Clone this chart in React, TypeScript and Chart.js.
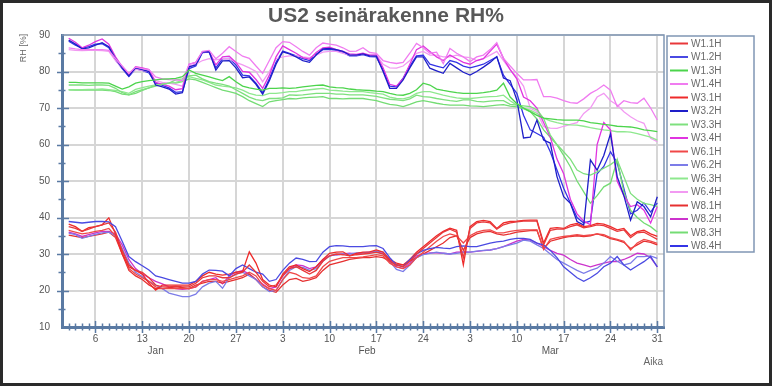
import React, { useEffect, useRef } from 'react';
import { Chart, registerables } from 'chart.js';

Chart.register(...registerables);

// Day index: 0 = 1 Jan, 89 = 31 Mar. Data runs from 2 Jan (1) to 31 Mar (89).
const days: number[] = Array.from({ length: 89 }, (_, i) => i + 1);

const xTickDays = [5, 12, 19, 26, 33, 40, 47, 54, 61, 68, 75, 82, 89];
const xTickLabels = ['6', '13', '20', '27', '3', '10', '17', '24', '3', '10', '17', '24', '31'];
const monthTickDays = [14, 45.6, 73];
const monthLabels = ['Jan', 'Feb', 'Mar'];
const yTicks = [10, 20, 30, 40, 50, 60, 70, 80, 90];

const W1_1H = [37.5,37.0,36.2,36.8,37.5,38.0,38.5,36.0,31.0,27.0,
 25.5,25.0,23.5,21.5,21.0,21.0,21.2,21.0,21.0,22.0,
 23.5,24.0,24.0,23.5,23.5,24.5,25.0,27.0,25.0,22.5,
 21.0,21.5,24.0,26.0,26.5,25.5,24.5,25.5,28.0,29.5,
 30.0,29.8,29.5,29.8,30.0,30.2,30.5,30.0,28.0,27.0,
 26.5,28.0,30.0,31.5,33.0,34.5,36.0,36.8,36.0,29.0,
 37.0,38.5,38.8,38.5,36.8,38.0,38.5,38.8,39.0,39.0,
 39.0,32.5,36.5,36.8,36.8,37.5,38.0,37.2,37.5,38.0,
 37.8,37.0,36.2,36.6,34.5,35.8,36.0,35.0,34.0];
const W1_2H = [38.9,38.7,38.5,38.7,38.9,38.9,38.8,37.5,33.5,29.3,
 27.9,26.8,25.6,24.0,23.5,23.0,22.5,22.0,22.0,22.5,
 24.5,25.6,25.5,25.3,24.0,26.0,27.0,26.0,25.0,24.5,
 22.5,23.0,25.5,27.5,28.9,28.5,27.9,28.0,30.5,32.0,
 32.3,32.2,32.0,32.0,32.0,32.2,32.3,31.5,29.0,27.0,
 26.5,28.5,30.0,31.0,31.5,31.8,31.6,31.5,32.0,32.2,
 32.0,32.0,32.5,33.0,33.3,33.5,34.0,34.3,34.3,34.0,
 33.0,32.5,31.0,29.0,26.5,25.0,23.5,22.5,23.5,24.7,
 26.5,27.5,29.3,27.0,25.6,26.8,27.9,29.3,26.5];
const W1_3H = [77.0,77.0,76.9,76.9,76.9,76.9,76.8,76.0,75.2,75.8,
 76.8,77.2,77.5,77.7,77.9,78.0,78.1,78.6,80.4,79.5,
 79.0,78.5,78.0,77.5,78.6,77.2,76.0,75.5,75.2,74.9,
 75.4,75.4,75.5,75.4,75.5,75.8,76.0,76.2,76.3,75.8,
 75.6,75.5,75.2,75.0,74.9,74.8,74.6,74.5,74.0,73.6,
 73.5,74.0,75.0,76.8,76.3,75.2,74.8,74.5,74.2,74.0,
 74.0,74.0,74.2,74.5,74.9,76.8,73.0,71.2,70.0,69.0,
 68.0,67.2,67.0,66.8,66.7,66.7,66.7,66.5,66.0,65.8,
 65.5,65.3,65.0,64.9,64.8,64.5,64.0,63.8,63.5];
const W1_4H = [86.5,86.2,86.0,86.0,86.0,86.0,85.8,83.5,81.5,79.5,
 81.2,80.8,80.5,78.5,78.0,77.8,77.7,77.5,82.0,82.5,
 85.5,85.8,83.5,85.0,86.8,85.5,84.2,83.6,81.5,79.5,
 83.0,86.5,88.2,88.0,86.8,85.5,84.5,86.5,87.8,87.5,
 87.2,86.5,85.5,85.6,86.5,85.2,85.0,83.0,82.5,82.2,
 82.5,85.0,87.7,86.5,85.0,85.3,82.2,86.3,85.0,84.0,
 82.7,84.0,84.5,86.0,87.9,83.6,81.5,79.5,77.7,77.7,
 77.8,73.1,73.1,72.7,72.0,71.5,71.3,72.5,74.0,75.0,
 76.3,74.9,70.4,72.0,71.5,71.3,72.7,70.0,66.7];
const W3_1H = [38.2,37.5,36.2,37.2,37.5,38.0,39.9,35.5,30.0,26.5,
 25.5,24.5,22.0,20.1,21.5,21.5,21.5,21.5,21.5,22.5,
 24.0,25.0,24.5,24.2,24.5,25.0,25.2,30.6,27.5,23.0,
 21.5,21.0,24.5,26.5,27.0,26.0,25.2,26.5,28.5,30.2,
 30.5,30.6,29.5,30.2,30.5,30.6,31.1,30.5,28.5,27.5,
 27.0,28.5,30.5,32.0,33.5,35.0,36.2,37.1,36.5,27.0,
 37.5,38.9,39.2,38.9,37.0,38.5,38.9,39.0,39.2,39.3,
 39.3,33.0,37.0,37.2,37.0,38.0,38.4,37.5,37.8,38.4,
 38.2,37.5,36.6,37.0,35.0,36.1,36.5,35.5,34.8];
const W3_2H = [88.6,87.5,86.2,86.5,87.2,87.9,86.8,83.5,81.0,78.8,
 81.0,80.5,80.0,76.3,75.8,75.2,73.8,74.2,81.3,81.8,
 85.4,85.5,80.4,82.9,83.0,81.0,78.3,78.5,76.5,73.8,
 77.5,82.0,85.4,84.8,84.0,83.0,82.5,84.5,86.2,86.3,
 86.0,85.5,84.5,84.5,84.8,84.3,84.2,80.0,75.4,75.4,
 77.7,81.0,84.0,84.0,80.9,80.2,79.5,82.2,81.0,79.8,
 79.0,80.0,81.2,82.5,84.1,78.2,77.5,72.2,61.8,62.0,
 66.7,61.2,60.4,51.2,45.7,43.9,38.9,37.9,55.8,53.0,
 57.0,62.9,51.2,46.0,39.3,44.3,43.0,40.2,45.7];
const W3_3H = [76.3,76.3,76.3,76.2,76.3,76.3,76.2,75.4,74.2,73.6,
 74.5,75.0,75.5,76.0,76.5,76.8,77.7,78.0,78.8,79.0,
 78.0,77.2,76.8,76.5,76.0,75.0,74.0,73.0,72.3,72.0,
 72.6,72.6,72.8,73.6,73.5,73.6,73.8,74.0,74.0,74.0,
 73.8,73.8,73.6,73.6,73.6,73.4,73.2,72.8,72.4,72.2,
 72.0,72.5,73.5,73.1,73.0,72.6,72.3,72.0,71.8,72.2,
 72.2,71.8,71.7,71.9,72.0,72.0,71.0,70.8,70.6,70.4,
 69.5,67.2,62.6,60.0,58.0,56.0,53.0,52.0,51.6,52.5,
 53.5,54.5,55.8,51.2,46.6,45.0,43.9,43.5,43.0];
const W3_4H = [89.1,88.0,86.5,87.2,88.2,88.9,87.5,84.0,81.3,79.0,
 81.3,81.0,80.5,77.0,76.5,76.0,75.0,75.3,82.0,82.5,
 85.4,85.5,81.8,84.0,84.2,82.5,80.0,79.8,77.8,75.4,
 79.0,84.0,87.0,86.0,85.0,83.8,83.4,85.2,86.5,86.7,
 86.0,85.5,84.8,84.7,85.0,84.5,84.5,81.0,76.5,76.0,
 78.0,82.0,86.0,87.0,85.5,84.0,83.0,84.5,83.5,82.5,
 82.0,83.0,83.5,85.5,87.5,83.6,80.5,78.0,73.0,72.0,
 70.0,66.0,62.0,56.0,52.0,45.0,41.0,39.0,38.0,60.0,
 66.0,64.0,50.0,46.0,43.0,43.5,42.0,38.5,43.0];
const W6_1H = [36.5,36.0,35.5,35.8,36.2,36.5,37.0,35.0,30.5,26.0,
 24.5,23.5,22.5,21.0,20.5,20.5,20.5,20.5,20.5,21.0,
 22.5,23.0,23.0,22.5,23.0,23.5,24.0,25.0,24.0,21.5,
 20.5,20.0,23.0,25.0,24.5,23.5,23.3,24.0,26.5,28.0,
 28.5,29.0,29.0,29.0,29.2,29.5,29.8,29.5,27.5,26.5,
 26.0,27.0,29.0,30.5,32.0,33.5,34.8,35.5,35.0,33.0,
 35.0,36.0,36.5,36.6,35.8,35.8,36.2,36.5,36.6,36.6,
 36.6,31.2,34.0,34.5,34.8,35.0,35.3,35.0,35.2,35.5,
 35.3,34.5,34.0,33.5,31.1,33.0,34.0,33.5,32.9];
const W6_2H = [35.7,35.3,34.3,34.8,35.4,35.8,36.0,35.0,31.5,27.5,
 25.0,23.8,22.5,21.5,20.5,19.3,18.8,18.3,18.3,19.0,
 21.0,22.0,22.5,20.6,23.5,24.5,25.0,24.0,23.0,21.0,
 19.7,20.0,23.0,25.5,26.5,26.3,25.5,26.0,28.0,29.5,
 29.8,30.0,30.0,30.3,30.4,30.5,30.8,30.5,28.0,25.8,
 25.2,27.0,29.0,29.8,30.2,30.5,30.2,30.0,30.2,30.5,
 30.5,30.8,31.0,31.1,31.5,32.0,32.5,33.0,33.8,33.5,
 32.5,31.5,30.0,28.5,27.5,26.5,25.5,24.7,25.5,26.1,
 27.5,29.3,28.0,27.0,27.5,29.3,29.3,29.5,28.8];
const W6_3H = [75.0,75.0,75.0,75.1,75.1,75.2,75.0,74.8,74.5,74.0,
 75.1,75.6,76.0,76.3,76.5,76.8,77.0,77.5,78.6,78.1,
 77.7,77.0,76.3,76.0,75.8,75.5,74.9,74.0,73.5,73.4,
 74.0,74.0,74.2,74.5,74.5,74.8,75.0,75.2,75.4,74.9,
 74.8,74.6,74.5,74.5,74.5,74.2,74.0,73.8,73.0,72.6,
 72.5,73.0,74.0,74.5,74.5,74.0,73.5,73.1,72.8,72.6,
 72.6,72.8,73.0,73.1,73.2,73.5,72.0,70.8,70.0,69.4,
 68.5,67.2,66.5,66.0,65.6,65.4,65.3,65.0,64.6,64.3,
 64.0,63.8,63.5,63.5,63.4,63.0,62.5,62.0,61.2];
const W6_4H = [86.0,85.8,85.7,85.8,85.8,85.7,85.5,83.0,81.0,79.0,
 80.6,80.3,80.0,77.5,77.0,76.8,76.5,76.0,81.5,82.0,
 83.0,83.5,83.2,83.5,83.5,82.5,81.8,81.0,80.0,77.2,
 80.0,83.5,84.0,84.3,84.3,84.0,83.8,84.5,85.3,85.5,
 85.5,85.0,84.5,84.5,84.8,84.5,84.5,82.0,81.0,80.9,
 81.5,83.0,85.0,85.5,84.5,84.5,84.0,84.0,84.5,84.0,
 83.8,83.0,83.5,84.5,85.5,83.0,80.5,78.5,76.0,70.0,
 69.0,64.9,64.5,64.4,65.0,65.5,66.0,68.5,70.0,73.0,
 74.0,72.0,70.8,69.0,67.6,66.5,65.8,61.7,60.8];
const W8_1H = [35.2,34.8,34.5,34.8,35.2,35.5,36.0,34.5,30.0,25.5,
 24.0,23.0,21.5,20.5,20.5,20.8,21.0,20.8,20.5,21.5,
 22.0,22.5,22.5,22.0,22.5,23.0,23.5,24.5,23.0,21.0,
 20.0,19.5,21.5,23.0,23.3,22.5,22.9,23.5,25.5,27.0,
 27.5,28.0,28.5,28.8,29.0,29.0,29.3,29.0,28.0,27.0,
 27.0,28.0,29.0,30.0,31.0,32.0,33.0,34.5,35.0,31.0,
 34.5,35.5,36.0,36.2,35.5,35.2,35.5,36.0,36.2,36.4,
 36.5,31.5,33.5,34.0,34.5,34.8,35.0,34.8,35.0,35.5,
 35.0,34.2,33.8,33.2,31.5,32.5,33.5,33.2,32.5];
const W8_2H = [36.0,35.5,34.8,35.3,35.8,36.2,36.2,35.5,32.5,28.5,
 26.0,24.5,23.5,22.5,21.8,21.0,20.5,20.3,20.5,21.0,
 22.5,23.0,23.5,21.8,24.0,25.0,25.5,24.5,23.0,21.8,
 20.5,21.0,24.0,26.0,27.0,26.8,26.0,26.5,28.5,29.5,
 29.8,30.0,30.2,30.0,30.3,30.5,30.6,30.2,28.5,26.5,
 26.0,27.5,29.5,30.0,30.3,30.3,30.2,30.0,30.5,30.6,
 30.5,30.7,30.9,31.1,31.5,32.0,32.8,33.5,34.0,33.8,
 33.0,32.0,31.0,30.2,29.7,28.5,27.5,27.0,26.5,27.0,
 27.5,27.9,27.9,28.5,29.3,30.2,30.0,29.0,26.5];
const W8_3H = [75.0,74.9,74.9,74.9,74.9,74.9,74.8,74.5,73.8,73.6,
 74.0,74.8,75.5,76.3,76.6,76.8,76.8,77.2,78.0,77.7,
 77.0,76.3,75.6,74.9,74.5,74.0,73.1,72.0,71.2,70.4,
 71.7,72.0,72.3,72.6,72.5,72.8,72.9,73.0,73.1,72.6,
 72.6,72.5,72.6,72.6,72.6,72.3,72.0,71.5,71.0,70.8,
 70.4,71.0,71.7,72.0,71.7,71.3,71.0,70.8,70.8,70.8,
 70.6,70.5,70.4,70.6,70.8,70.9,70.5,70.3,69.8,69.0,
 67.0,64.0,62.0,59.9,57.0,53.9,50.0,47.0,43.9,46.0,
 48.4,49.4,55.8,47.0,42.0,40.0,38.5,37.5,36.0];
const W8_4H = [88.3,87.2,86.4,86.8,87.5,87.6,86.5,83.2,80.8,78.6,
 80.7,80.3,79.6,76.8,76.2,75.5,74.3,74.5,80.8,81.5,
 85.2,85.3,81.0,83.5,83.6,81.8,79.0,78.8,76.8,74.2,
 78.0,82.5,85.6,85.0,84.3,83.5,83.0,84.7,86.0,86.1,
 85.8,85.2,84.3,84.3,84.6,84.1,84.0,80.5,76.0,75.8,
 78.2,81.5,84.3,84.5,82.0,81.5,81.0,83.0,82.5,81.5,
 81.0,81.5,82.0,83.0,84.0,79.0,76.5,74.0,68.0,64.0,
 63.0,62.0,58.0,53.0,48.0,44.0,40.0,38.5,39.0,52.0,
 54.0,58.0,55.0,48.0,41.0,42.0,44.0,41.5,44.0];

const seriesNames = ['W1.1H','W1.2H','W1.3H','W1.4H','W3.1H','W3.2H','W3.3H','W3.4H',
  'W6.1H','W6.2H','W6.3H','W6.4H','W8.1H','W8.2H','W8.3H','W8.4H'];
const seriesValues = [W1_1H, W1_2H, W1_3H, W1_4H, W3_1H, W3_2H, W3_3H, W3_4H,
  W6_1H, W6_2H, W6_3H, W6_4H, W8_1H, W8_2H, W8_3H, W8_4H];
const seriesColors = ['#e8383a','#4a4ae2','#4cd44c','#f07cf0','#ee2a2a','#1e1ec8','#7ee07e','#e034e0',
  '#f04848','#7c7ce8','#8ee88e','#f29af2','#e63030','#cc33cc','#74dc74','#3434e6'];

const FONT = '"Liberation Sans", Arial, sans-serif';

const decorPlugin = {
  id: 'decor',
  afterDraw(chart: any) {
    const { ctx, chartArea: ca } = chart;
    const xs = chart.scales.x;
    const ys = chart.scales.y;
    ctx.save();
    // top & right frame of plot
    ctx.strokeStyle = '#8096b4';
    ctx.lineWidth = 1.5;
    ctx.beginPath();
    ctx.moveTo(ca.left, ca.top);
    ctx.lineTo(ca.right, ca.top);
    ctx.lineTo(ca.right, ca.bottom);
    ctx.stroke();
    // axis ticks
    ctx.strokeStyle = '#5a7aa3';
    ctx.lineWidth = 1.5;
    ctx.beginPath();
    for (let d = 1; d <= 89; d++) {
      const x = Math.round(xs.getPixelForValue(d)) + 0.5;
      const major = xTickDays.includes(d);
      const len = major ? 6 : 3.5;
      ctx.moveTo(x, ca.bottom - len);
      ctx.lineTo(x, ca.bottom + len);
    }
    for (let v = 15; v <= 85; v += 5) {
      const y = Math.round(ys.getPixelForValue(v)) + 0.5;
      const major = v % 10 === 0;
      ctx.moveTo(ca.left - (major ? 5 : 3.5), y);
      ctx.lineTo(ca.left + (major ? 7 : 3.5), y);
    }
    ctx.stroke();
    // title
    ctx.fillStyle = '#585858';
    ctx.font = 'bold 21px ' + FONT;
    ctx.textAlign = 'center';
    ctx.textBaseline = 'middle';
    ctx.fillText('US2 seinärakenne RH%', 386, 16);
    // y axis title
    ctx.save();
    ctx.translate(24, 48);
    ctx.rotate(-Math.PI / 2);
    ctx.font = '9px ' + FONT;
    ctx.fillStyle = '#666';
    ctx.fillText('RH [%]', 0, 0);
    ctx.restore();
    // x axis title
    ctx.font = '10px ' + FONT;
    ctx.fillStyle = '#666';
    ctx.textAlign = 'right';
    ctx.fillText('Aika', 663, 362);
    // legend
    const lx = 667, ly = 36, lw = 87, lh = 216;
    ctx.fillStyle = '#fff';
    ctx.fillRect(lx, ly, lw, lh);
    ctx.strokeStyle = '#8096b4';
    ctx.lineWidth = 1.5;
    ctx.strokeRect(lx, ly, lw, lh);
    ctx.textAlign = 'left';
    ctx.font = '10px ' + FONT;
    chart.data.datasets.forEach((ds: any, i: number) => {
      const y = 43.5 + i * 13.5;
      ctx.strokeStyle = ds.borderColor;
      ctx.lineWidth = 2;
      ctx.beginPath();
      ctx.moveTo(670, y);
      ctx.lineTo(688, y);
      ctx.stroke();
      ctx.fillStyle = '#6a6a6a';
      ctx.fillText(ds.label, 691, y + 0.5);
    });
    // outer frame
    ctx.strokeStyle = '#2a2a2a';
    ctx.lineWidth = 3;
    ctx.strokeRect(1.5, 1.5, 769, 383);
    ctx.restore();
  },
};

export default function App() {
  const ref = useRef<HTMLCanvasElement | null>(null);
  useEffect(() => {
    document.body.style.margin = '0';
    const canvas = ref.current;
    if (!canvas) return;
    const datasets = seriesNames.map((name, i) => ({
      label: name,
      data: seriesValues[i].map((v, j) => ({ x: days[j], y: v })),
      borderColor: seriesColors[i],
      backgroundColor: seriesColors[i],
      borderWidth: 1.3,
      pointRadius: 0,
      tension: 0,
      fill: false,
    }));
    const chart = new Chart(canvas, {
      type: 'line',
      data: { datasets },
      options: {
        animation: false,
        responsive: false,
        devicePixelRatio: 1,
        layout: { padding: { top: 35, right: 108, bottom: 27, left: 0 } },
        plugins: { legend: { display: false }, tooltip: { enabled: false }, title: { display: false } },
        scales: {
          x: {
            type: 'linear',
            min: 0,
            max: 90,
            afterBuildTicks: (s: any) => { s.ticks = xTickDays.map((v) => ({ value: v })); },
            afterFit: (s: any) => { s.height = 18; },
            ticks: {
              autoSkip: false,
              maxRotation: 0,
              padding: 6,
              color: '#555',
              font: { size: 10, family: FONT },
              callback: (_v: any, i: number) => xTickLabels[i],
            },
            grid: { color: '#d6d6d6', lineWidth: 2, drawTicks: false },
            border: { color: '#5a7aa3', width: 3 },
          },
          xm: {
            type: 'linear',
            position: 'bottom',
            min: 0,
            max: 90,
            afterBuildTicks: (s: any) => { s.ticks = monthTickDays.map((v) => ({ value: v })); },
            afterFit: (s: any) => { s.height = 14; },
            ticks: {
              autoSkip: false,
              maxRotation: 0,
              padding: 0,
              color: '#555',
              font: { size: 10, family: FONT },
              callback: (_v: any, i: number) => monthLabels[i],
            },
            grid: { display: false, drawTicks: false },
            border: { display: false },
          },
          y: {
            min: 10,
            max: 90,
            afterBuildTicks: (s: any) => { s.ticks = yTicks.map((v) => ({ value: v })); },
            afterFit: (s: any) => { s.width = 62; },
            ticks: { padding: 12, color: '#555', font: { size: 10, family: FONT } },
            grid: { color: '#d6d6d6', lineWidth: 2, drawTicks: false },
            border: { color: '#5a7aa3', width: 3 },
          },
        },
      },
      plugins: [decorPlugin],
    } as any);
    return () => chart.destroy();
  }, []);
  return (
    <div style={{ width: 772, height: 386, background: '#fff' }}>
      <canvas ref={ref} width={772} height={386} style={{ display: 'block' }} />
    </div>
  );
}
